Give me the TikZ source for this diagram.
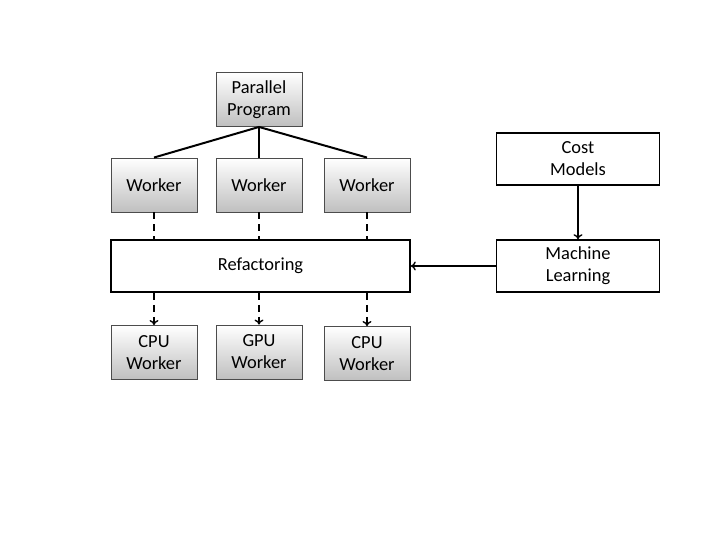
\documentclass[tikz,border=0pt]{standalone}
\usepackage{fontspec}
\setmainfont{Carlito}
\usetikzlibrary{calc,arrows.meta}
\tikzset{
  graybox/.style={draw=black!70,line width=0.9pt,top color=white,bottom color=black!25,
    minimum width=86bp,minimum height=54bp,align=center,inner sep=0pt},
  whitebox/.style={draw,line width=1.6pt,fill=white,minimum height=52bp,align=center,inner sep=0pt},
  link/.style={line width=2pt},
  dashlink/.style={line width=2pt,dash pattern=on 7bp off 5bp},
  tip/.style={-{To[length=5pt,width=9pt,line width=1.4pt]}}
}

\begin{document}
\begin{tikzpicture}[x=1bp,y=-1bp,font=\fontsize{18.5}{22}\selectfont]
					\useasboundingbox (0,0) rectangle (720,540);
					%NODES
					\node[graybox] (prog) at (259,99.5) {Parallel\\Program};
					\node[graybox] (w1) at (154,185) {Worker};
					\node[graybox] (w2) at (259,185) {Worker};
					\node[graybox] (w3) at (367,185) {Worker};
					\node[whitebox,minimum width=299bp] (refac) at (260.5,266) {Refactoring};
					\node[graybox] (cpu1) at (154,352.5) {CPU\\Worker};
					\node[graybox] (gpu) at (259,352) {GPU\\Worker};
					\node[graybox] (cpu2) at (367,353.5) {CPU\\Worker};
					\node[whitebox,minimum width=163bp] (cost) at (578,159) {Cost\\Models};
					\node[whitebox,minimum width=163bp] (ml) at (578,266) {Machine\\Learning};
					%CONNECTORS
					\foreach \w in {w1,w2,w3}
						\draw[link] (prog.south) -- (\w.north);
					\foreach \w in {w1,w2,w3}
						\draw[dashlink] (\w.south) -- (\w.south |- refac.north);
					\foreach \w in {cpu1,gpu,cpu2}
						\draw[dashlink,tip] (\w.north |- refac.south) -- (\w.north);
					\draw[link,tip] (cost) -- (ml);
					\draw[link,tip] (ml) -- (refac);
\end{tikzpicture}
\end{document}
